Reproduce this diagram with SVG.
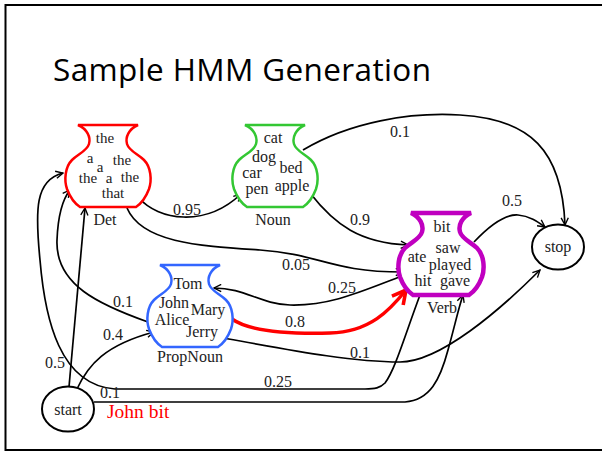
<svg xmlns="http://www.w3.org/2000/svg" width="602" height="452" viewBox="0 0 602 452">
<style>
.w{font-family:"Liberation Serif","Times New Roman",serif;font-size:16px;fill:#222;text-anchor:middle}
.wd{font-size:15px}
.lbl{font-family:"Liberation Serif","Times New Roman",serif;font-size:16px;fill:#222;text-anchor:middle}
.e{fill:none;stroke:#000;stroke-width:1.7}
.st{fill:#fff;stroke:#000;stroke-width:2}
</style>
<defs>
<path id="vase" d="M -30 0 H 30 C 21 4 17 12 19 19 C 21 26 30 29 36 35 C 43 42 44 55 41 64 C 38 72 34 78 28 82 H -28 C -34 78 -38 72 -41 64 C -44 55 -43 42 -36 35 C -30 29 -21 26 -19 19 C -17 12 -21 4 -30 0 Z"/>
<marker id="arr" viewBox="0 0 10 10" refX="9" refY="5" markerWidth="9" markerHeight="9" orient="auto" markerUnits="userSpaceOnUse"><path d="M1,1 L9,5 L1,9" fill="none" stroke="#000" stroke-width="1.5"/></marker>
<marker id="arrR" viewBox="0 0 10 10" refX="8.5" refY="5" markerWidth="18" markerHeight="18" orient="auto" markerUnits="userSpaceOnUse"><path d="M1,1 L8.5,5 L1,9" fill="none" stroke="#f00" stroke-width="2"/></marker>
</defs>
<rect x="5.5" y="5" width="620" height="445" fill="#fff" stroke="#000" stroke-width="2"/>
<text x="53" y="81" font-family="'Open Sans','Liberation Sans',sans-serif" font-size="31.5" fill="#000" textLength="378">Sample HMM Generation</text>

<g id="connectors">
<path class="e" marker-end="url(#arr)" d="M 139 198 C 158 220 205 228 241 194"/>
<path class="e" marker-end="url(#arr)" d="M 310 193 C 335 225 360 243 408 245"/>
<path class="e" marker-end="url(#arr)" d="M 127 208 C 142 243 200 246 260 250 C 320 254 330 272 403 272"/>
<path class="e" marker-end="url(#arr)" d="M 402 276 C 360 292 330 306 290 305 C 260 304 245 288 214 288"/>
<path fill="none" stroke="#f00" stroke-width="3.5" marker-end="url(#arrR)" d="M 232 319 C 250 332 290 334 330 333 C 370 332 390 310 406 290"/>
<path class="e" marker-end="url(#arr)" d="M 218 337 C 290 350 350 362 400 362 C 440 362 500 310 540 270"/>
<path class="e" marker-end="url(#arr)" d="M 148 322 C 100 305 55 285 57 240 C 58 215 62 200 70 190"/>
<path class="e" marker-end="url(#arr)" d="M 69 387 L 85 208"/>
<path class="e" marker-end="url(#arr)" d="M 77 389 C 88 365 105 345 154 332"/>
<path class="e" marker-end="url(#arr)" d="M 420 295 C 405 335 395 370 385 383 C 380 388 375 389 365 389 L 115 389 C 60 385 45 320 40 260 C 35 210 35 180 63 173"/>
<path class="e" marker-end="url(#arr)" d="M 94 402 L 405 402 C 430 400 440 380 448 350 C 455 325 458 310 463 295"/>
<path class="e" marker-end="url(#arr)" d="M 303 150 C 350 122 410 112 460 115 C 530 119 562 150 565 225"/>
<path class="e" marker-end="url(#arr)" d="M 474 242 C 490 225 505 214 518 215 C 530 216 538 222 545 227"/>
<text class="lbl" x="187" y="215">0.95</text>
<text class="lbl" x="360" y="225">0.9</text>
<text class="lbl" x="296" y="270">0.05</text>
<text class="lbl" x="342" y="293">0.25</text>
<text class="lbl" x="295" y="327">0.8</text>
<text class="lbl" x="360" y="358">0.1</text>
<text class="lbl" x="123" y="307">0.1</text>
<text class="lbl" x="55" y="368">0.5</text>
<text class="lbl" x="113" y="340">0.4</text>
<text class="lbl" x="278" y="387">0.25</text>
<text class="lbl" x="110" y="398">0.1</text>
<text class="lbl" x="400" y="137">0.1</text>
<text class="lbl" x="512" y="206">0.5</text>
</g>

<g id="det">
<use href="#vase" x="108" y="125" fill="#fff" stroke="#f00" stroke-width="2.5"/>
<text class="w wd" x="105" y="143">the</text>
<text class="w wd" x="90" y="163">a</text>
<text class="w wd" x="122" y="165">the</text>
<text class="w wd" x="100" y="172">a</text>
<text class="w wd" x="88" y="183">the</text>
<text class="w wd" x="109" y="183">a</text>
<text class="w wd" x="130" y="182">the</text>
<text class="w wd" x="113" y="198">that</text>
<text class="w" x="105" y="225">Det</text>
</g>

<g id="noun">
<use href="#vase" x="275" y="125" fill="#fff" stroke="#33c733" stroke-width="2.5"/>
<text class="w" x="273" y="143">cat</text>
<text class="w" x="264" y="162">dog</text>
<text class="w" x="291" y="173">bed</text>
<text class="w" x="252" y="178">car</text>
<text class="w" x="257" y="194">pen</text>
<text class="w" x="292" y="191">apple</text>
<text class="w" x="273" y="225">Noun</text>
</g>

<g id="propnoun">
<use href="#vase" x="190" y="265" fill="#fff" stroke="#3366ff" stroke-width="2.5"/>
<text class="w" x="188" y="289">Tom</text>
<text class="w" x="174" y="308">John</text>
<text class="w" x="208" y="315">Mary</text>
<text class="w" x="172" y="325">Alice</text>
<text class="w" x="202" y="337">Jerry</text>
<text class="w" x="190" y="362">PropNoun</text>
</g>

<g id="verb">
<use href="#vase" x="441" y="213" fill="#fff" stroke="#c000c0" stroke-width="4.5"/>
<text class="w" x="442" y="232">bit</text>
<text class="w" x="417" y="262">ate</text>
<text class="w" x="448" y="253">saw</text>
<text class="w" x="450" y="270">played</text>
<text class="w" x="423" y="286">hit</text>
<text class="w" x="455" y="286">gave</text>
<text class="w" x="442" y="313">Verb</text>
</g>

<g id="stop">
<ellipse class="st" cx="558" cy="247" rx="26" ry="22.5"/>
<text class="w" x="558" y="252">stop</text>
</g>

<g id="start">
<ellipse class="st" cx="68" cy="409" rx="26" ry="22.5"/>
<text class="w" x="68" y="415">start</text>
</g>

<text x="107" y="418" font-family="'Liberation Serif','Times New Roman',serif" font-size="19.5" fill="#f00">John bit</text>
</svg>
